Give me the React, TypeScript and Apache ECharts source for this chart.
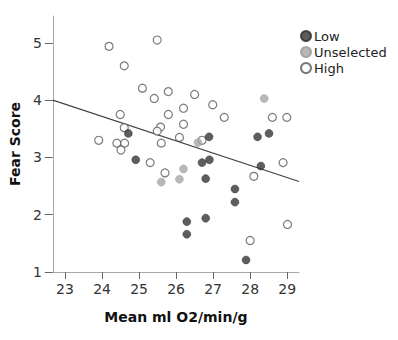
import React, { useEffect, useRef } from "react";
import * as echarts from "echarts";

const lowData: [number, number][] = [
  [24.71, 3.42], [24.91, 2.96], [26.89, 3.36], [26.7, 2.91], [26.9, 2.96],
  [26.8, 2.63], [28.2, 3.36], [28.51, 3.42], [28.29, 2.85], [27.59, 2.45],
  [27.59, 2.22], [26.29, 1.88], [26.8, 1.94], [26.29, 1.66], [27.89, 1.21],
];

const unselectedData: [number, number][] = [
  [25.6, 2.57], [26.09, 2.62], [26.2, 2.8], [26.59, 3.26], [28.38, 4.03],
];

const highData: [number, number][] = [
  [24.19, 4.94], [25.49, 5.05], [24.6, 4.6], [25.09, 4.21], [25.41, 4.03],
  [25.79, 4.15], [24.49, 3.75], [25.79, 3.75], [24.6, 3.52], [25.58, 3.53],
  [25.49, 3.46], [26.5, 4.1], [26.2, 3.86], [26.99, 3.92], [27.3, 3.7],
  [26.2, 3.58], [28.6, 3.7], [28.99, 3.7], [23.91, 3.3], [24.4, 3.25],
  [24.61, 3.25], [24.51, 3.13], [25.6, 3.25], [25.3, 2.91], [25.7, 2.73],
  [26.09, 3.35], [26.7, 3.3], [28.89, 2.91], [28.1, 2.67], [29.01, 1.83],
  [28.0, 1.55],
];

const fitLine: [number, number][] = [
  [22.67, 4.0],
  [29.32, 2.58],
];

const xTicks = [23, 24, 25, 26, 27, 28, 29];
const yTicks = [1, 2, 3, 4, 5];

const FONT = "'DejaVu Sans', sans-serif";

export default function App() {
  const ref = useRef<HTMLDivElement>(null);
  useEffect(() => {
    if (!ref.current) return;
    const chart = echarts.init(ref.current, null, { renderer: "svg" });
    chart.setOption({
      animation: false,
      backgroundColor: "#ffffff",
      grid: { left: 52, right: 99, top: 16, bottom: 68, containLabel: false },
      legend: {
        orient: "vertical",
        left: 300,
        top: 28,
        padding: 0,
        itemGap: 0,
        itemWidth: 10,
        itemHeight: 10,
        icon: "circle",
        data: ["Low", "Unselected", "High"],
        textStyle: {
          fontFamily: FONT,
          fontSize: 13,
          color: "#222",
          lineHeight: 16,
          padding: [0, 0, 0, -2],
        },
      },
      xAxis: {
        type: "value",
        min: 22.67,
        max: 29.32,
        name: "Mean ml O2/min/g",
        nameLocation: "middle",
        nameGap: 38,
        nameTextStyle: { fontFamily: FONT, fontSize: 14, fontWeight: "bold", color: "#111" },
        splitLine: { show: false },
        axisLine: { show: true, onZero: false, lineStyle: { color: "#a8a8a8", width: 1 } },
        axisTick: { show: true, length: 7, customValues: xTicks, lineStyle: { color: "#666" } },
        axisLabel: {
          customValues: xTicks,
          margin: 10,
          fontFamily: FONT,
          fontSize: 14,
          color: "#333",
        },
      },
      yAxis: {
        type: "value",
        min: 1,
        max: 5.47,
        name: "Fear Score",
        nameLocation: "middle",
        nameGap: 27,
        nameTextStyle: { fontFamily: FONT, fontSize: 14, fontWeight: "bold", color: "#111" },
        splitLine: { show: false },
        axisLine: { show: true, onZero: false, lineStyle: { color: "#a8a8a8", width: 1 } },
        axisTick: { show: true, length: 8, customValues: yTicks, lineStyle: { color: "#666" } },
        axisLabel: {
          customValues: yTicks,
          margin: 11,
          fontFamily: FONT,
          fontSize: 14,
          color: "#333",
        },
      },
      series: [
        {
          type: "line",
          data: fitLine,
          symbol: "none",
          silent: true,
          z: 1,
          lineStyle: { color: "#444", width: 1.2 },
          tooltip: { show: false },
        },
        {
          name: "Low",
          type: "scatter",
          data: lowData,
          symbolSize: 8,
          z: 3,
          itemStyle: { color: "#363636", borderColor: "#2a2a2a", borderWidth: 0.5 },
        },
        {
          name: "Unselected",
          type: "scatter",
          data: unselectedData,
          symbolSize: 8,
          z: 3,
          itemStyle: { color: "#a6a6a6", borderColor: "#9a9a9a", borderWidth: 0.5 },
        },
        {
          name: "High",
          type: "scatter",
          data: highData,
          symbolSize: 8,
          z: 2,
          itemStyle: { color: "#ffffff", borderColor: "#5a5a5a", borderWidth: 1.2 },
        },
      ],
    });
    return () => chart.dispose();
  }, []);
  return <div ref={ref} style={{ width: 398, height: 340, position: "absolute", left: 0, top: 0 }} />;
}
